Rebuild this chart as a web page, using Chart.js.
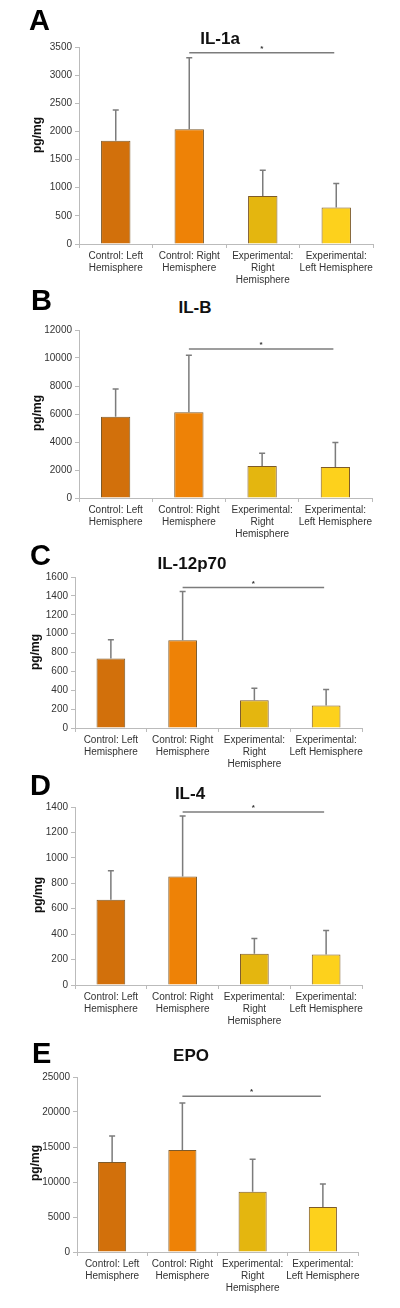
<!DOCTYPE html>
<html>
<head>
<meta charset="utf-8">
<script src="https://cdn.jsdelivr.net/npm/chart.js@4.4.1/dist/chart.umd.min.js"></script>
<style>
  body { margin: 0; background: #fff; width: 400px; height: 1308px; position: relative; overflow: hidden;
         font-family: "Liberation Sans", Arial, Helvetica, sans-serif; }
  canvas { position: absolute; left: 0; }
  .letter { position: absolute; font-weight: bold; font-size: 29px; line-height: 1; color: #000; z-index: 2; }
  .title { position: absolute; font-weight: bold; font-size: 17px; line-height: 1; color: #111; z-index: 2;
           transform: translate(-50%, -50%); white-space: nowrap; }
  .ylab { position: absolute; font-weight: bold; font-size: 12px; line-height: 1; color: #111; z-index: 2;
          transform: translate(-50%, -50%) rotate(-90deg); white-space: nowrap; }
</style>
</head>
<body>
<script>
const FONT = '"Liberation Sans", Arial, Helvetica, sans-serif';

// categories (multi-line x labels)
const categories = [
    ["Control: Left", "Hemisphere"],
    ["Control: Right", "Hemisphere"],
    ["Experimental:", "Right", "Hemisphere"],
    ["Experimental:", "Left Hemisphere"]
];

const letters = ["A", "B", "C", "D", "E"];
const titles = ["IL-1a", "IL-B", "IL-12p70", "IL-4", "EPO"];

// mean values (pg/mg)
const il1aMean = [1835, 2040, 855, 650];
const ilbMean = [5810, 6120, 2280, 2210];
const il12Mean = [737, 930, 295, 239];
const il4Mean = [670, 853, 245, 240];
const epoMean = [12850, 14570, 8610, 6440];

// error bar (upper) sizes
const il1aSD = [545, 1270, 455, 425];
const ilbSD = [1980, 4080, 920, 1750];
const il12SD = [198, 516, 126, 168];
const il4SD = [228, 477, 121, 188];
const epoSD = [3710, 6710, 4650, 3270];

// y axis ticks
const yMax = [3500, 12000, 1600, 1400, 25000];
const yStep = [500, 2000, 200, 200, 5000];

// significance bar height (control right vs experimental left)
const sigLevel = [3400, 10650, 1490, 1360, 22250];

const barColors = ['#D2700B', '#EE8206', '#E4B60F', '#FDD11C'];

// where each panel sits on the page
const boxes = [
    { top: 47, bottom: 244, left: 79, right: 373, letterX: 29, letterY: 10, titleX: 220, titleY: 38, ylabX: 37, ylabY: 135 },
    { top: 330, bottom: 498, left: 79, right: 372, letterX: 31, letterY: 290, titleX: 195, titleY: 307, ylabX: 37, ylabY: 413 },
    { top: 577, bottom: 728, left: 75, right: 362, letterX: 30, letterY: 545, titleX: 192, titleY: 563, ylabX: 35, ylabY: 652 },
    { top: 807, bottom: 985, left: 75, right: 362, letterX: 30, letterY: 775, titleX: 190, titleY: 793, ylabX: 38, ylabY: 895 },
    { top: 1077, bottom: 1252, left: 77, right: 358, letterX: 32, letterY: 1043, titleX: 191, titleY: 1055, ylabX: 35, ylabY: 1163 }
];

// error bars + significance line
const errorBars = {
    id: 'errorBars',
    afterDatasetsDraw(chart, args, opts) {
        const { ctx } = chart;
        const x = chart.scales.x;
        const y = chart.scales.y;
        const meta = chart.getDatasetMeta(0);
        ctx.save();
        ctx.strokeStyle = '#7c7c7c';
        ctx.lineWidth = 1.5;
        meta.data.forEach((bar, k) => {
            const top = y.getPixelForValue(opts.means[k] + opts.sds[k]);
            ctx.beginPath();
            ctx.moveTo(bar.x, bar.y);
            ctx.lineTo(bar.x, top);
            ctx.moveTo(bar.x - 3, top);
            ctx.lineTo(bar.x + 3, top);
            ctx.stroke();
        });
        const sy = y.getPixelForValue(opts.sig);
        const x1 = x.getPixelForValue(1);
        const x2 = x.getPixelForValue(3) - 2;
        ctx.beginPath();
        ctx.moveTo(x1, sy);
        ctx.lineTo(x2, sy);
        ctx.stroke();
        ctx.fillStyle = '#333';
        ctx.font = 'bold 8px ' + FONT;
        ctx.textAlign = 'center';
        ctx.textBaseline = 'middle';
        ctx.fillText('*', (x1 + x2) / 2, sy - 4);
        ctx.restore();
    }
};

function addText(cls, text, left, top) {
    let d = document.createElement('div');
    d.className = cls;
    d.textContent = text;
    d.style.left = left + 'px';
    d.style.top = top + 'px';
    document.body.appendChild(d);
}

function drawPanel(i, means, sds) {
    let b = boxes[i];
    let padTop = 12;
    let xAxisH = 52;
    let canvasTop = b.top - padTop;
    let canvas = document.createElement('canvas');
    canvas.width = 400;
    canvas.height = b.bottom - canvasTop + xAxisH;
    canvas.style.top = canvasTop + 'px';
    document.body.appendChild(canvas);

    addText('letter', letters[i], b.letterX, b.letterY - 4);
    addText('title', titles[i], b.titleX, b.titleY);
    addText('ylab', 'pg/mg', b.ylabX, b.ylabY);

    new Chart(canvas.getContext('2d'), {
        type: 'bar',
        data: {
            labels: categories,
            datasets: [{
                data: means,
                backgroundColor: barColors,
                borderColor: '#7d5a2a',
                borderWidth: 1,
                barPercentage: 0.4,
                categoryPercentage: 1
            }]
        },
        options: {
            responsive: false,
            animation: false,
            devicePixelRatio: 1,
            layout: { padding: { top: padTop, right: 400 - b.right, left: 0, bottom: 0 } },
            plugins: {
                legend: { display: false },
                tooltip: { enabled: false },
                errorBars: { means: means, sds: sds, sig: sigLevel[i] }
            },
            scales: {
                x: {
                    grid: { drawOnChartArea: false, drawTicks: true, tickLength: 4, color: '#bbb', offset: true },
                    border: { color: '#bbb', width: 1 },
                    ticks: { color: '#333', font: { size: 10, family: FONT }, padding: 2, maxRotation: 0, autoSkip: false },
                    afterFit: (s) => { s.height = xAxisH; }
                },
                y: {
                    min: 0,
                    max: yMax[i],
                    ticks: {
                        stepSize: yStep[i],
                        color: '#333',
                        font: { size: 10, family: FONT },
                        padding: 3,
                        callback: (v) => String(v)
                    },
                    grid: { drawOnChartArea: false, tickLength: 4, color: '#bbb' },
                    border: { color: '#bbb', width: 1 },
                    afterFit: (s) => { s.width = b.left; }
                }
            }
        },
        plugins: [errorBars]
    });
}

drawPanel(0, il1aMean, il1aSD);
drawPanel(1, ilbMean, ilbSD);
drawPanel(2, il12Mean, il12SD);
drawPanel(3, il4Mean, il4SD);
drawPanel(4, epoMean, epoSD);
</script>
</body>
</html>
